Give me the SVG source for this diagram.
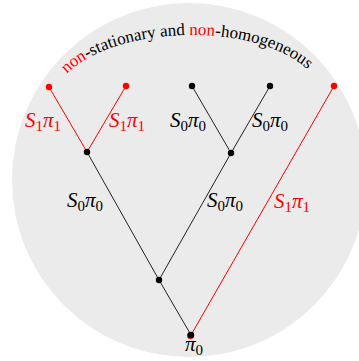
<svg xmlns="http://www.w3.org/2000/svg" width="359" height="361" viewBox="0 0 359 361">
<defs>
<style>
.bg{fill:#ebebeb}
.e{stroke:#222;stroke-width:1;fill:none}
.er{stroke:#ff0000;stroke-width:1;fill:none}
.nb{fill:#000}
.nr{fill:#ff0000}
.m{font-family:"Liberation Serif",serif;font-size:21px;font-style:italic;fill:#000}
.sub{font-size:15px;font-style:normal}
.red{fill:#ff0000}
.arc{font-family:"Liberation Serif",serif;font-size:17px;fill:#000}
</style>
<path id="arcpath" d="M 55,90 C 90,20 280,15 320,85" fill="none"/>
</defs>
<circle class="bg" cx="189" cy="180" r="177"/>
<text class="arc"><textPath href="#arcpath" startOffset="50%" text-anchor="middle"><tspan class="red">non</tspan>-stationary and <tspan class="red">non</tspan>-homogeneous</textPath></text>
<g id="connectors">
<line class="er" x1="49" y1="87" x2="87" y2="152"/>
<line class="er" x1="126" y1="86" x2="87" y2="152"/>
<line class="e" x1="192" y1="86" x2="231" y2="153"/>
<line class="e" x1="270" y1="86" x2="231" y2="153"/>
<line class="e" x1="87" y1="152" x2="159" y2="280"/>
<line class="e" x1="231" y1="153" x2="159" y2="280"/>
<line class="e" x1="159" y1="280" x2="191" y2="335"/>
<line class="er" x1="334" y1="86" x2="191" y2="335"/>
</g>
<g id="labels">
<text class="m red" x="25" y="127">S<tspan class="sub" dy="4">1</tspan><tspan dy="-4">π</tspan><tspan class="sub" dy="4">1</tspan></text>
<text class="m red" x="109" y="127">S<tspan class="sub" dy="4">1</tspan><tspan dy="-4">π</tspan><tspan class="sub" dy="4">1</tspan></text>
<text class="m" x="170" y="127">S<tspan class="sub" dy="4">0</tspan><tspan dy="-4">π</tspan><tspan class="sub" dy="4">0</tspan></text>
<text class="m" x="252" y="127">S<tspan class="sub" dy="4">0</tspan><tspan dy="-4">π</tspan><tspan class="sub" dy="4">0</tspan></text>
<text class="m" x="67" y="207">S<tspan class="sub" dy="4">0</tspan><tspan dy="-4">π</tspan><tspan class="sub" dy="4">0</tspan></text>
<text class="m" x="207" y="207">S<tspan class="sub" dy="4">0</tspan><tspan dy="-4">π</tspan><tspan class="sub" dy="4">0</tspan></text>
<text class="m red" x="274" y="208">S<tspan class="sub" dy="4">1</tspan><tspan dy="-4">π</tspan><tspan class="sub" dy="4">1</tspan></text>
</g>
<g id="leaf1"><circle class="nr" cx="49" cy="87" r="3.2"/></g>
<g id="leaf2"><circle class="nr" cx="126" cy="86" r="3.2"/></g>
<g id="leaf3"><circle class="nb" cx="192" cy="86" r="3.2"/></g>
<g id="leaf4"><circle class="nb" cx="270" cy="86" r="3.2"/></g>
<g id="leaf5"><circle class="nr" cx="334" cy="86" r="3.2"/></g>
<g id="node1"><circle class="nb" cx="87" cy="152" r="3.2"/></g>
<g id="node2"><circle class="nb" cx="231" cy="153" r="3.2"/></g>
<g id="node3"><circle class="nb" cx="159" cy="280" r="3.2"/></g>
<g id="root"><circle class="nr" cx="190.5" cy="335.5" r="3.6"/><circle class="nb" cx="191" cy="335" r="3.2"/><text class="m" x="185" y="351">π<tspan class="sub" dy="4">0</tspan></text></g>
</svg>
